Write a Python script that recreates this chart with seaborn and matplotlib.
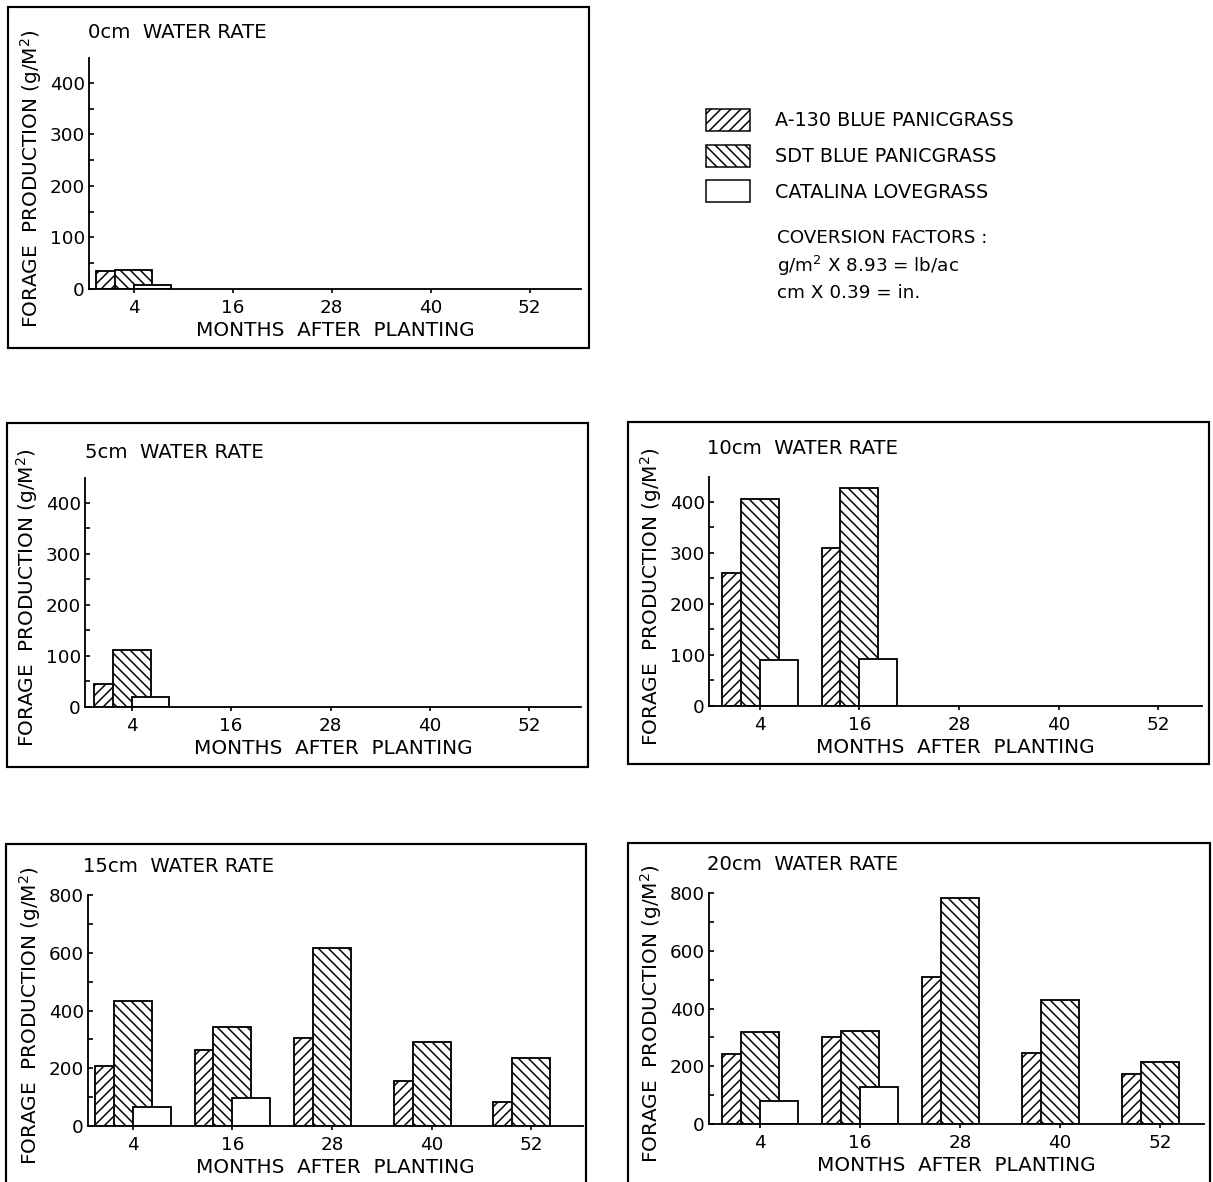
import numpy as np
import pandas as pd
import matplotlib
matplotlib.use("Agg")
import matplotlib.pyplot as plt
from matplotlib.patches import Rectangle, Patch
from matplotlib.ticker import MultipleLocator
import seaborn as sns

# ---------------- data ----------------
months = ["4", "16", "28", "40", "52"]
species = ["A-130 BLUE PANICGRASS", "SDT BLUE PANICGRASS", "CATALINA LOVEGRASS"]
hatches = ["////", "\\\\\\\\", ""]

rate_titles = ["0cm  WATER RATE", "5cm  WATER RATE", "10cm  WATER RATE",
               "15cm  WATER RATE", "20cm  WATER RATE"]

a130_0 = [34]
sdt_0 = [37]
cat_0 = [8]
months_0 = ["4"]

a130_5 = [45]
sdt_5 = [112]
cat_5 = [19]
months_5 = ["4"]

a130_10 = [261, 309]
sdt_10 = [404, 426]
cat_10 = [90, 91]
months_10 = ["4", "16"]

a130_15 = [207, 262, 305, 155, 82]
sdt_15 = [434, 343, 616, 290, 236]
cat_15 = [66, 97]
months_15 = ["4", "16", "28", "40", "52"]

a130_20 = [244, 300, 508, 246, 174]
sdt_20 = [319, 323, 781, 428, 214]
cat_20 = [79, 127]
months_20 = ["4", "16", "28", "40", "52"]


def long_frame(mo, a, s, c):
    rows = []
    for m, v in zip(mo, a):
        rows.append((m, species[0], v))
    for m, v in zip(mo, s):
        rows.append((m, species[1], v))
    for m, v in zip(mo, c):
        rows.append((m, species[2], v))
    return pd.DataFrame(rows, columns=["month", "species", "value"])


panels = [
    long_frame(months_0, a130_0, sdt_0, cat_0),
    long_frame(months_5, a130_5, sdt_5, cat_5),
    long_frame(months_10, a130_10, sdt_10, cat_10),
    long_frame(months_15, a130_15, sdt_15, cat_15),
    long_frame(months_20, a130_20, sdt_20, cat_20),
]

# ---------------- layout (pixels) ----------------
W, H, DPI = 1213, 1182, 120
# axes: left, right, top(px at ymax), bottom(px at 0)
axes_px = [
    (89, 581, 58, 289),
    (85, 581, 478, 707),
    (709, 1202, 477, 706),
    (88, 583, 895, 1126),
    (709, 1204, 893, 1124),
]
ymaxs = [448, 448, 448, 800, 800]
xlims = [(-0.45, 4.52), (-0.47, 4.52), (-0.51, 4.44), (-0.45, 4.52), (-0.51, 4.44)]
frames_px = [
    (8, 589, 7, 348),
    (7, 588, 423, 767),
    (628, 1209, 422, 764),
    (6, 586, 844, 1195),
    (628, 1210, 843, 1195),
]
title_px = [(88, 33), (85, 452), (707, 448), (83, 867), (707, 865)]

sns.set_style("ticks")
plt.rcParams["font.family"] = ["DejaVu Sans"]
plt.rcParams["hatch.linewidth"] = 0.9
plt.rcParams["hatch.color"] = "black"
plt.rcParams["text.color"] = "black"
plt.rcParams["axes.labelcolor"] = "black"

fig = plt.figure(figsize=(W / DPI, H / DPI), dpi=DPI)
fig.patch.set_facecolor("white")

FS_TICK = 11
FS_LAB = 12
FS_TITLE = 11.8

for i, df in enumerate(panels):
    l, r, t, b = axes_px[i]
    ax = fig.add_axes([l / W, 1 - b / H, (r - l) / W, (b - t) / H])
    sns.barplot(data=df, x="month", y="value", hue="species", order=months,
                hue_order=species, palette=["white"] * 3, dodge=True,
                width=0.57, gap=-1.0, edgecolor="black", linewidth=1.1,
                saturation=1, legend=False, ax=ax, errorbar=None)
    for p in ax.patches:
        cx = p.get_x() + p.get_width() / 2
        off = cx - round(cx)
        if off < -0.08:
            p.set_hatch(hatches[0])
        elif off > 0.08:
            p.set_hatch(hatches[2])
        else:
            p.set_hatch(hatches[1])
        p.set_facecolor("white")
        p.set_edgecolor("black")
    ax.set_xlim(*xlims[i])
    ax.set_ylim(0, ymaxs[i])
    if ymaxs[i] > 500:
        ax.yaxis.set_major_locator(MultipleLocator(200))
        ax.yaxis.set_minor_locator(MultipleLocator(100))
    else:
        ax.yaxis.set_major_locator(MultipleLocator(100))
        ax.yaxis.set_minor_locator(MultipleLocator(50))
    sns.despine(ax=ax)
    for s in ["left", "bottom"]:
        ax.spines[s].set_linewidth(1.1)
        ax.spines[s].set_color("black")
    ax.tick_params(axis="y", which="both", direction="in", length=3.2, width=1.0,
                   pad=2.5, labelsize=FS_TICK, colors="black")
    ax.tick_params(axis="x", which="both", direction="out", length=2.5, width=1.0,
                   pad=3.5, labelsize=FS_TICK, colors="black")
    ax.set_facecolor("white")
    ax.set_xlabel("MONTHS  AFTER  PLANTING", fontsize=FS_LAB, color="black")
    ax.set_ylabel("FORAGE  PRODUCTION (g/M$^2$)", fontsize=FS_LAB, color="black")
    aw, ah = r - l, b - t
    ax.xaxis.set_label_coords(0.5, -32 / ah)
    ax.yaxis.set_label_coords(-45 / aw, 0.5 - 5 / ah)
    tx, ty = title_px[i]
    fig.text(tx / W, 1 - ty / H, rate_titles[i], fontsize=FS_TITLE,
             ha="left", va="center", color="black")

# panel frames
for (x0, x1, y0, y1) in frames_px:
    fig.add_artist(Rectangle((x0 / W, 1 - y1 / H), (x1 - x0) / W, (y1 - y0) / H,
                             transform=fig.transFigure, fill=False,
                             edgecolor="black", linewidth=1.3))

# legend
handles = [Patch(facecolor="white", edgecolor="black", hatch=h, linewidth=0.9)
           for h in hatches]
leg = fig.legend(handles, species, loc="upper left",
                 bbox_to_anchor=(706 / W, 1 - 109 / H), frameon=False,
                 fontsize=11.5, handlelength=2.3, handleheight=1.4,
                 handletextpad=1.3, labelspacing=0.7, borderpad=0,
                 borderaxespad=0, labelcolor="black")

fig.text(777 / W, 1 - 238 / H, "COVERSION FACTORS :", fontsize=11,
         ha="left", va="center", color="black")
fig.text(777 / W, 1 - 266 / H, "g/m$^2$ X 8.93 = lb/ac", fontsize=11,
         ha="left", va="center", color="black")
fig.text(777 / W, 1 - 293 / H, "cm X 0.39 = in.", fontsize=11,
         ha="left", va="center", color="black")

fig.savefig("out.png", dpi=DPI, facecolor="white")
